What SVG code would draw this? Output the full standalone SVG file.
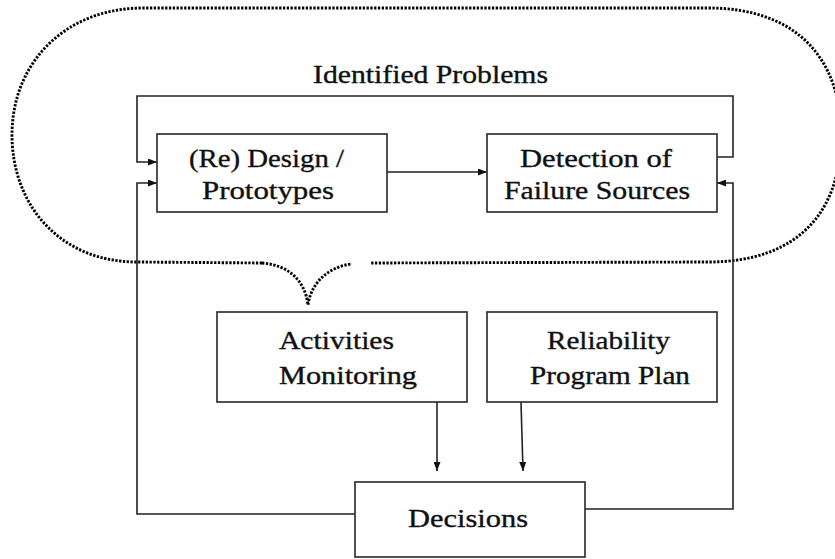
<svg xmlns="http://www.w3.org/2000/svg" width="835" height="559" viewBox="0 0 835 559">
  <style>
    .box { fill: #fff; stroke: #333; stroke-width: 1.7; }
    .lbl { font-family: "Liberation Serif", "Times New Roman", serif; font-size: 25px; fill: #111; stroke: #111; stroke-width: 0.35; }
    .conn { fill: none; stroke: #222; stroke-width: 1.6; }
    .dots { fill: none; stroke: #000; stroke-width: 2.9; stroke-dasharray: 2.3 1.5; }
  </style>
  <defs>
    <marker id="arrow" viewBox="0 0 9 7" markerUnits="userSpaceOnUse" markerWidth="9" markerHeight="7" refX="9" refY="3.5" orient="auto">
      <path d="M0,0 L9,3.5 L0,7 z" fill="#111"/>
    </marker>
  </defs>
  <rect width="835" height="559" fill="#fff"/>

  <!-- dotted boundary of the design / detection loop -->
  <g id="loop-boundary">
    <path class="dots" d="M 262 263 L 137 262 C 60 262 12 205 12 135 C 12 62 66 8 143 8 L 708 8 C 800 8 841 62 841 135 C 841 210 800 262 708 262 L 370 263"/>
    <path class="dots" d="M 262 263 C 288 265 305 280 308 305 C 311 282 330 266 352 264"/>
    <text class="lbl" x="313" y="83" textLength="235" lengthAdjust="spacingAndGlyphs">Identified Problems</text>
  </g>

  <!-- connectors -->
  <g id="connectors">
    <path class="conn" d="M 717 157 L 733 157 L 733 96 L 137 96 L 137 162 L 157 162" marker-end="url(#arrow)"/>
    <path class="conn" d="M 387 172 L 487 172" marker-end="url(#arrow)"/>
    <path class="conn" d="M 355 514 L 137 514 L 137 183 L 157 183" marker-end="url(#arrow)"/>
    <path class="conn" d="M 585 509 L 733 509 L 733 183 L 717 183" marker-end="url(#arrow)"/>
    <path class="conn" d="M 437 402 L 437 471" marker-end="url(#arrow)"/>
    <path class="conn" d="M 521 402 L 523 471" marker-end="url(#arrow)"/>
  </g>

  <g id="design">
    <rect class="box" x="157" y="134" width="230" height="78"/>
    <text class="lbl" x="189" y="167" textLength="155" lengthAdjust="spacingAndGlyphs">(Re) Design /</text>
    <text class="lbl" x="202" y="199" textLength="132" lengthAdjust="spacingAndGlyphs">Prototypes</text>
  </g>

  <g id="detection">
    <rect class="box" x="487" y="134" width="230" height="78"/>
    <text class="lbl" x="520" y="167" textLength="152" lengthAdjust="spacingAndGlyphs">Detection of</text>
    <text class="lbl" x="504" y="199" textLength="186" lengthAdjust="spacingAndGlyphs">Failure Sources</text>
  </g>

  <g id="activities">
    <rect class="box" x="217" y="312" width="250" height="90"/>
    <text class="lbl" x="279" y="349" textLength="115" lengthAdjust="spacingAndGlyphs">Activities</text>
    <text class="lbl" x="279" y="384" textLength="138" lengthAdjust="spacingAndGlyphs">Monitoring</text>
  </g>

  <g id="reliability">
    <rect class="box" x="487" y="312" width="230" height="90"/>
    <text class="lbl" x="547" y="349" textLength="123" lengthAdjust="spacingAndGlyphs">Reliability</text>
    <text class="lbl" x="530" y="384" textLength="160" lengthAdjust="spacingAndGlyphs">Program Plan</text>
  </g>

  <g id="decisions">
    <rect class="box" x="355" y="482" width="230" height="75"/>
    <text class="lbl" x="408" y="527" textLength="120" lengthAdjust="spacingAndGlyphs">Decisions</text>
  </g>
</svg>
